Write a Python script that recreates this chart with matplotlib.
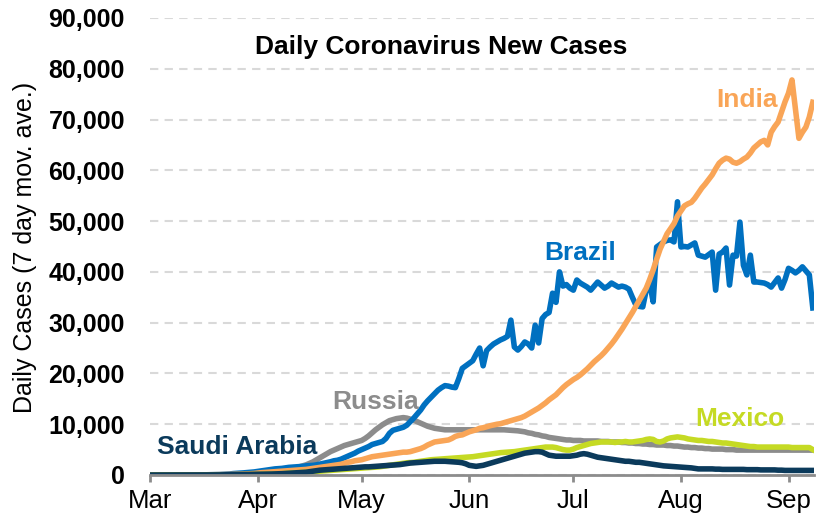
import matplotlib
matplotlib.use("Agg")
import matplotlib.pyplot as plt
import matplotlib.dates as mdates
import matplotlib.ticker as mticker
import pandas as pd

plt.rcParams['font.family'] = ['Liberation Sans', 'DejaVu Sans']

# Fechas: 1 de marzo a 8 de septiembre (media movil de 7 dias)
fechas = pd.date_range("2020-03-01", "2020-09-08", freq="D")

brazil = [
    0, 0, 0, 0, 0, 0, 0, 0, 0, 0,
    0, 0, 5, 10, 15, 20, 30, 40, 50, 70,
    90, 120, 150, 200, 280, 320, 380, 420, 480, 520,
    600, 700, 800, 900, 1000, 1100, 1200, 1250, 1300, 1400,
    1500, 1550, 1600, 1650, 1700, 1800, 1850, 1900, 2000, 2150,
    2300, 2450, 2600, 2800, 2900, 3100, 3400, 3700, 4000, 4300,
    4700, 5000, 5300, 5600, 6000, 6200, 6400, 6600, 7200, 8200,
    8800, 9000, 9200, 9400, 9800, 10500, 11200, 12000, 12800, 13800,
    14600, 15300, 16000, 16700, 17200, 17600, 17500, 17300, 17200, 19000,
    21000, 21500, 22000, 22500, 23800, 25000, 21500, 24500, 25200, 25800,
    26200, 26600, 26900, 27300, 30500, 25200, 24600, 25300, 26200, 25800,
    25000, 29500, 26000, 30800, 31600, 32000, 35800, 34000, 40000, 37200,
    37500, 36800, 36400, 38400, 37800, 37400, 37000, 36400, 37200, 38000,
    37400, 36800, 37200, 37800, 37400, 37000, 37200, 37000, 36600, 35000,
    33500, 33200, 33100, 36400, 37800, 34100, 44900, 45400, 45900, 46200,
    46300, 45900, 53800, 44900, 45000, 44900, 45300, 45700, 43300, 43100,
    42900, 43400, 43900, 36400, 43500, 43900, 44700, 37400, 43300, 43100,
    49800, 41300, 39400, 43300, 38000, 38000, 37900, 37800, 37500, 37000,
    37900, 38800, 36800, 38500, 40700, 40300, 39800, 40300, 41000, 40200,
    39400, 32900,
]

india = [
    0, 0, 1, 2, 3, 4, 5, 6, 8, 10,
    12, 14, 16, 18, 20, 25, 30, 40, 50, 60,
    70, 80, 90, 100, 110, 130, 150, 180, 220, 260,
    300, 380, 450, 500, 550, 600, 650, 700, 750, 800,
    850, 900, 950, 1000, 1050, 1100, 1200, 1300, 1400, 1500,
    1600, 1700, 1800, 1900, 2000, 2100, 2300, 2500, 2600, 2800,
    2900, 3000, 3200, 3400, 3600, 3700, 3800, 3900, 4000, 4100,
    4200, 4300, 4400, 4500, 4500, 4600, 4800, 5000, 5200, 5500,
    5900, 6200, 6500, 6600, 6700, 6800, 6900, 7200, 7600, 7800,
    7900, 8200, 8500, 8700, 8900, 9200, 9300, 9500, 9700, 9850,
    10000, 10100, 10300, 10500, 10700, 10900, 11100, 11300, 11600, 12000,
    12400, 12800, 13200, 13700, 14200, 14800, 15300, 15800, 16500, 17200,
    17800, 18300, 18800, 19200, 19700, 20300, 20900, 21600, 22300, 22900,
    23500, 24200, 25000, 25800, 26700, 27700, 28700, 29800, 30900, 32000,
    33200, 34400, 35600, 36800, 38500, 40400, 42500, 44500, 46000, 47500,
    48500, 49500, 51000, 52000, 53000, 53400, 53700, 54500, 55500, 56500,
    57300, 58200, 59100, 60300, 61400, 62000, 62400, 62200, 61600, 61400,
    61700, 62200, 62600, 63400, 64400, 65000, 65600, 65900, 65000, 67500,
    68600, 69500, 71500, 73500, 75200, 77800, 72000, 66300, 67500, 68500,
    70500, 73400,
]

russia = [
    0, 0, 0, 0, 0, 0, 0, 0, 0, 0,
    0, 0, 0, 1, 2, 3, 5, 7, 10, 15,
    20, 25, 30, 40, 50, 60, 70, 90, 110, 140,
    170, 200, 250, 300, 380, 450, 550, 650, 800, 950,
    1100, 1250, 1400, 1600, 1800, 2000, 2300, 2600, 3000, 3400,
    3800, 4200, 4600, 4900, 5200, 5500, 5800, 6000, 6200, 6400,
    6600, 6800, 7200, 7700, 8300, 8900, 9400, 9900, 10300, 10700,
    10900, 11100, 11200, 11300, 11200, 11000, 10800, 10500, 10200, 9900,
    9600, 9400, 9200, 9100, 9000, 8900, 8900, 8900, 8900, 8900,
    8900, 8900, 8900, 8900, 8900, 8900, 8900, 8900, 8900, 8900,
    8900, 8900, 8900, 8850, 8800, 8750, 8700, 8600, 8500, 8300,
    8200, 8000, 7900, 7700, 7600, 7400, 7300, 7200, 7100, 7000,
    6900, 6900, 6800, 6800, 6800, 6700, 6700, 6700, 6700, 6700,
    6600, 6600, 6600, 6500, 6500, 6500, 6400, 6400, 6300, 6300,
    6200, 6200, 6100, 6100, 6000, 6000, 5900, 5900, 5900, 5800,
    5800, 5700, 5700, 5600, 5500, 5500, 5400, 5400, 5300, 5300,
    5200, 5200, 5100, 5100, 5100, 5100, 5000, 5000, 5000, 4900,
    4900, 4900, 4900, 4900, 4900, 4900, 4900, 4900, 4900, 4900,
    4900, 4900, 4900, 4900, 4900, 4900, 4900, 4900, 4900, 4900,
    4900, 4900,
]

mexico = [
    0, 0, 0, 0, 0, 0, 0, 0, 0, 0,
    0, 0, 0, 0, 1, 2, 3, 5, 8, 10,
    15, 20, 25, 30, 40, 50, 60, 70, 80, 90,
    100, 110, 120, 140, 160, 180, 200, 230, 260, 300,
    330, 360, 400, 450, 500, 550, 600, 650, 700, 750,
    800, 850, 900, 950, 1000, 1050, 1100, 1150, 1200, 1250,
    1300, 1350, 1400, 1450, 1500, 1550, 1600, 1700, 1800, 1900,
    2000, 2100, 2200, 2300, 2400, 2450, 2500, 2600, 2700, 2800,
    2900, 3000, 3050, 3100, 3150, 3200, 3250, 3300, 3350, 3400,
    3450, 3500, 3550, 3600, 3700, 3800, 3900, 4000, 4100, 4200,
    4300, 4400, 4450, 4500, 4550, 4600, 4700, 4800, 4900, 5000,
    5100, 5200, 5300, 5400, 5500, 5500, 5500, 5400, 5200, 5000,
    4900, 4900, 5100, 5400, 5600, 5800, 6000, 6200, 6300, 6400,
    6500, 6500, 6500, 6500, 6400, 6500, 6500, 6600, 6500, 6500,
    6600, 6700, 6800, 7000, 7100, 7000, 6600, 6500, 6700, 7100,
    7300, 7400, 7500, 7400, 7300, 7100, 7000, 6900, 6800, 6800,
    6700, 6600, 6600, 6500, 6400, 6300, 6300, 6200, 6100, 6000,
    5900, 5800, 5700, 5600, 5600, 5500, 5500, 5500, 5500, 5500,
    5500, 5500, 5500, 5500, 5500, 5400, 5400, 5400, 5400, 5400,
    5400, 5000,
]

saudi = [
    0, 0, 0, 0, 0, 0, 0, 0, 0, 0,
    0, 0, 0, 0, 1, 2, 3, 5, 10, 15,
    20, 30, 40, 50, 60, 70, 80, 90, 100, 110,
    120, 130, 140, 150, 170, 190, 210, 230, 260, 300,
    330, 360, 400, 450, 500, 550, 650, 750, 850, 950,
    1000, 1050, 1100, 1150, 1200, 1250, 1300, 1350, 1400, 1450,
    1500, 1550, 1600, 1600, 1650, 1700, 1750, 1800, 1850, 1900,
    1950, 2000, 2050, 2150, 2250, 2350, 2400, 2450, 2500, 2550,
    2600, 2650, 2700, 2700, 2700, 2700, 2650, 2600, 2550, 2500,
    2400, 2200, 1900, 1800, 1700, 1800, 1900, 2100, 2300, 2500,
    2700, 2900, 3100, 3300, 3500, 3700, 3900, 4100, 4300, 4400,
    4500, 4600, 4600, 4500, 4200, 3900, 3800, 3700, 3700, 3700,
    3700, 3700, 3800, 3900, 4100, 4200, 4100, 3900, 3700, 3500,
    3400, 3300, 3200, 3100, 3000, 2900, 2800, 2700, 2700, 2600,
    2500, 2500, 2400, 2300, 2200, 2100, 2000, 1900, 1800, 1750,
    1700, 1650, 1600, 1550, 1500, 1450, 1400, 1300, 1200, 1200,
    1200, 1200, 1200, 1150, 1150, 1100, 1100, 1100, 1100, 1100,
    1100, 1100, 1050, 1050, 1050, 1050, 1000, 1000, 1000, 1000,
    1000, 950, 950, 900, 900, 900, 900, 900, 900, 900,
    900, 900,
]

# nombre, datos, color, posicion de la etiqueta (fecha, valor)
series = [
    ("Russia", russia, "#8C8C8C", ("2020-05-05", 14400)),
    ("Brazil", brazil, "#0070C0", ("2020-07-03", 43700)),
    ("India", india, "#F9A557", ("2020-08-20", 73800)),
    ("Mexico", mexico, "#C5DA24", ("2020-08-18", 11000)),
    ("Saudi Arabia", saudi, "#0B3A5B", ("2020-03-26", 5500)),
]

fig = plt.figure(figsize=(8.16, 5.23), dpi=100)
ax = fig.add_axes([0.1838, 0.0918, 0.8137, 0.8738])

for nombre, datos, color, (fx, fy) in series:
    ax.plot(fechas, datos, color=color, linewidth=4)
    ax.text(pd.Timestamp(fx), fy, nombre, color=color, fontsize=19,
            fontweight="bold", ha="center", va="center")

ax.set_ylim(0, 90000)
ax.set_xlim(pd.Timestamp("2020-03-01"), pd.Timestamp("2020-09-08 08:00"))
ax.set_yticks(range(0, 90001, 10000))
ax.yaxis.set_major_formatter(mticker.FuncFormatter(lambda v, p: f"{int(v):,}"))
ax.xaxis.set_major_locator(mdates.MonthLocator())
ax.xaxis.set_major_formatter(mdates.DateFormatter("%b"))

ax.yaxis.grid(True, color="#D9D9D9", linestyle=(0, (4, 3)), linewidth=1.5)
ax.set_axisbelow(True)
for lado in ["top", "right", "left"]:
    ax.spines[lado].set_visible(False)
ax.spines["bottom"].set_color("#8C8C8C")
ax.spines["bottom"].set_linewidth(2)

ax.tick_params(axis="y", length=0, pad=18, labelsize=18)
ax.tick_params(axis="x", length=5, width=2, color="#8C8C8C", pad=5, labelsize=18.5)
for t in ax.get_yticklabels():
    t.set_fontweight("bold")

fig.text(441 / 816, 1 - 47 / 523, "Daily Coronavirus New Cases", fontsize=19,
         fontweight="bold", ha="center", va="center")
fig.text(25 / 816, 1 - 247 / 523, "Daily Cases (7 day mov. ave.)", fontsize=18,
         rotation=90, ha="center", va="center")

fig.savefig("out.png", dpi=100)
